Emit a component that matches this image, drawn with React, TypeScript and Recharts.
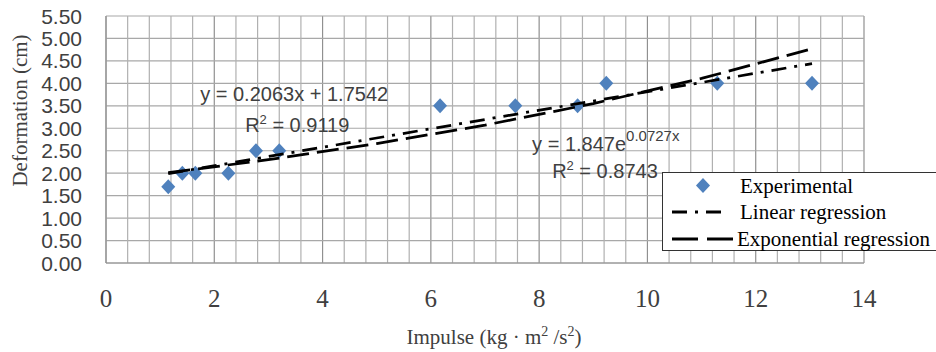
import React from 'react';
import { ScatterChart, Scatter, XAxis, YAxis, CartesianGrid, ReferenceDot, ReferenceLine } from 'recharts';

// ---- data ----
const impulse = [1.15, 1.41, 1.65, 2.26, 2.77, 3.2, 6.17, 7.56, 8.71, 9.24, 11.29, 13.04];
const deformation = [1.7, 2.0, 2.0, 2.0, 2.5, 2.5, 3.5, 3.5, 3.5, 4.0, 4.0, 4.0];
const linearX = [1.15, 13.04];
const linearY = [1.99, 4.44];
const expX = [1.15, 3, 5, 7, 9, 11, 13.04];
const expY = [2.01, 2.3, 2.66, 3.07, 3.55, 4.11, 4.77];
const xTicks = [0, 2, 4, 6, 8, 10, 12, 14];
const yTicks = [0, 0.5, 1, 1.5, 2, 2.5, 3, 3.5, 4, 4.5, 5, 5.5];
const minorXTicks = [0.4, 0.8, 1.2, 1.6, 2.4, 2.8, 3.2, 3.6, 4.4, 4.8, 5.2, 5.6, 6.4, 6.8, 7.2, 7.6, 8.4, 8.8, 9.2, 9.6, 10.4, 10.8, 11.2, 11.6, 12.4, 12.8, 13.2, 13.6];
const seriesNames = ['Experimental', 'Linear regression', 'Exponential regression'];
const linEqText = 'y = 0.2063x + 1.7542';
const linR2Text = '0.9119';
const expEqBase = 'y = 1.847e';
const expEqPow = '0.0727x';
const expR2Text = '0.8743';
const xLabelText = ['Impulse (kg · m', '2', ' /s', '2', ')'];
const yLabelText = 'Deformation (cm)';

const expData = impulse.map((x, i) => ({ x, y: deformation[i] }));
const linData = linearX.map((x, i) => ({ x, y: linearY[i] }));
const expoData = expX.map((x, i) => ({ x, y: expY[i] }));

const SANS = "'Liberation Sans', Arial, sans-serif";
const SERIF = "'Liberation Serif', 'Times New Roman', serif";
const BLUE = '#4F81BD';
const TXT = '#404040';
const X_MAX = 14;

const Diamond = (p: any) => (
  <polygon
    points={`${p.cx},${p.cy - 7.5} ${p.cx + 7},${p.cy} ${p.cx},${p.cy + 7.5} ${p.cx - 7},${p.cy}`}
    fill={BLUE}
  />
);
const NoShape = () => <g />;

const YTick = (p: any) => (
  <text x={p.x} y={p.y} dy="0.36em" textAnchor="end" fontFamily={SANS} fontSize={21} fill={TXT}>
    {Number(p.payload.value).toFixed(2)}
  </text>
);
const XTick = (p: any) => (
  <text x={p.x} y={p.y} dy="0.7em" textAnchor="middle" style={{ fontFamily: SERIF }} fontSize={25} fill={TXT}>
    {p.payload.value}
  </text>
);

const XLabel = (p: any) => {
  const vb = p.viewBox;
  return (
    <text x={vb.x + vb.width / 2 + 9} y={vb.y + 81} textAnchor="middle" style={{ fontFamily: SERIF }} fontSize={21} fill={TXT}>
      {xLabelText[0]}
      <tspan dy={-8} fontSize={14}>{xLabelText[1]}</tspan>
      <tspan dy={8}>{xLabelText[2]}</tspan>
      <tspan dy={-8} fontSize={14}>{xLabelText[3]}</tspan>
      <tspan dy={8}>{xLabelText[4]}</tspan>
    </text>
  );
};
const YLabel = (p: any) => {
  const vb = p.viewBox;
  const cx = 20;
  const cy = vb.y + vb.height / 2 - 29;
  return (
    <text
      transform={`translate(${cx},${cy}) rotate(-90)`}
      x={0}
      y={0}
      dy="0.35em"
      textAnchor="middle"
      style={{ fontFamily: SERIF }}
      fontSize={21}
      fill={TXT}
    >
      {yLabelText}
    </text>
  );
};

const PlainEq = (props: any) => {
  const vb = props.viewBox;
  return (
    <text x={vb.x} y={vb.y} fontFamily={SANS} fontSize={20} fill={TXT}>
      {props.text}
    </text>
  );
};
const R2Eq = (props: any) => {
  const vb = props.viewBox;
  return (
    <text x={vb.x} y={vb.y} fontFamily={SANS} fontSize={20} fill={TXT}>
      R<tspan dy={-8} fontSize={13}>2</tspan>
      <tspan dy={8}>{' = ' + props.text}</tspan>
    </text>
  );
};
const ExpEq = (props: any) => {
  const vb = props.viewBox;
  return (
    <text x={vb.x} y={vb.y} fontFamily={SANS} fontSize={20} fill={TXT}>
      {expEqBase}
      <tspan dy={-10} fontSize={15}>{expEqPow}</tspan>
    </text>
  );
};

const Legend = () => (
  <svg
    width={280}
    height={80}
    style={{ position: 'absolute', left: 662, top: 172, pointerEvents: 'none' }}
  >
    <rect x={0.5} y={0.5} width={300} height={78} fill="#fff" stroke="#333" strokeWidth={1} />
    <polygon points="41,6 48,13.5 41,21 34,13.5" fill={BLUE} />
    <line x1={10} y1={40} x2={64} y2={40} stroke="#000" strokeWidth={3} strokeDasharray="15 8 3 8" />
    <line x1={10} y1={67} x2={71} y2={67} stroke="#000" strokeWidth={3} strokeDasharray="26 9" />
    <text x={78} y={21} style={{ fontFamily: SERIF }} fontSize={21} fill="#000">{seriesNames[0]}</text>
    <text x={78} y={47} style={{ fontFamily: SERIF }} fontSize={21} fill="#000">{seriesNames[1]}</text>
    <text x={75} y={74} style={{ fontFamily: SERIF }} fontSize={21} fill="#000">{seriesNames[2]}</text>
  </svg>
);

export default function App() {
  return (
    <div style={{ position: 'absolute', left: 0, top: 0, width: 936, height: 352, background: '#fff' }}>
      <ScatterChart width={936} height={352} margin={{ top: 16, right: 72, bottom: 0, left: 0 }}>
        {minorXTicks.map((v) => (
          <ReferenceLine key={'m' + v} x={v} stroke="#b0b0b0" strokeWidth={1.2} />
        ))}
        <CartesianGrid horizontal={false} stroke="#909090" strokeWidth={1.2} />
        <CartesianGrid vertical={false} stroke="#a8a8a8" strokeWidth={1.2} />
        <XAxis
          type="number"
          dataKey="x"
          domain={[0, X_MAX]}
          ticks={xTicks}
          height={89}
          tickSize={0}
          tickMargin={26}
          axisLine={{ stroke: '#909090' }}
          tick={<XTick />}
          label={<XLabel />}
          interval={0}
        />
        <YAxis
          type="number"
          dataKey="y"
          domain={[0, 5.5]}
          ticks={yTicks}
          width={106}
          tickSize={0}
          tickMargin={24}
          axisLine={{ stroke: '#909090' }}
          tick={<YTick />}
          label={<YLabel />}
          interval={0}
        />
        <Scatter name={seriesNames[0]} data={expData} shape={<Diamond />} isAnimationActive={false} />
        <Scatter
          name={seriesNames[1]}
          data={linData}
          shape={<NoShape />}
          line={{ stroke: '#000', strokeWidth: 2.75, strokeDasharray: '15 8 3 8' }}
          lineType="joint"
          isAnimationActive={false}
        />
        <Scatter
          name={seriesNames[2]}
          data={expoData}
          shape={<NoShape />}
          line={{ stroke: '#000', strokeWidth: 2.75, strokeDasharray: '22 8' }}
          lineType="joint"
          isAnimationActive={false}
        />
        <ReferenceDot x={1.74} y={3.615} r={0} ifOverflow="visible" label={<PlainEq text={linEqText} />} />
        <ReferenceDot x={2.57} y={2.924} r={0} ifOverflow="visible" label={<R2Eq text={linR2Text} />} />
        <ReferenceDot x={7.87} y={2.5} r={0} ifOverflow="visible" label={<ExpEq />} />
        <ReferenceDot x={8.24} y={1.9} r={0} ifOverflow="visible" label={<R2Eq text={expR2Text} />} />
      </ScatterChart>
      <Legend />
    </div>
  );
}
